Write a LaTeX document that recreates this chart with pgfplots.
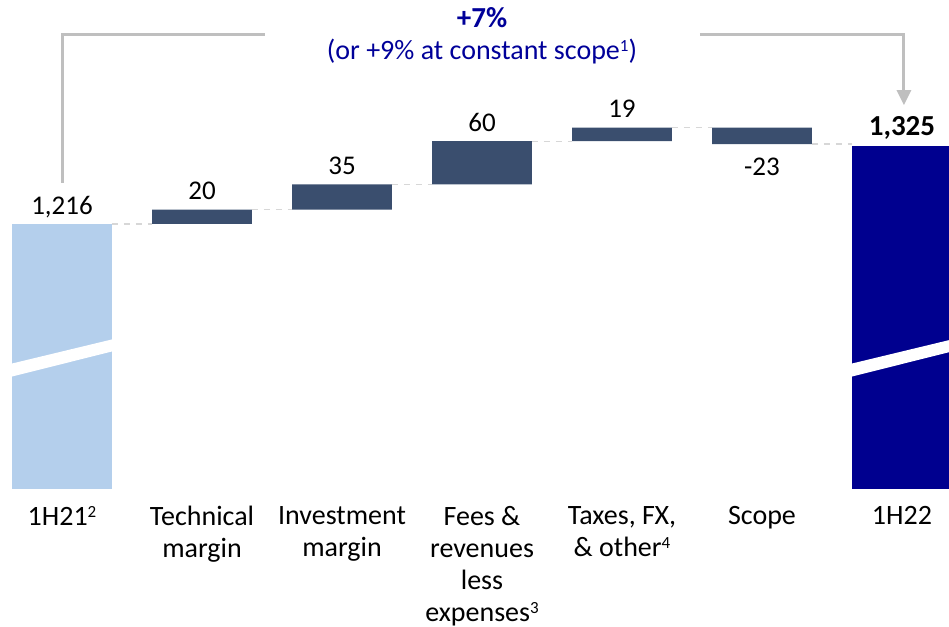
\documentclass[border=0pt]{standalone}
\usepackage{fontspec}
\setmainfont{Carlito}
\usepackage{pgfplots}
\usepackage{pgfplotstable}
\pgfplotsset{compat=1.18}
\usetikzlibrary{arrows.meta}
\newcommand\sups[1]{\raisebox{0.6ex}{\fontsize{8.5}{8.5}\selectfont #1}}
\definecolor{lb}{RGB}{180,207,236}
\definecolor{slate}{RGB}{58,78,110}
\definecolor{nv}{RGB}{0,0,143}
\definecolor{tnv}{RGB}{0,0,153}
\definecolor{brk}{RGB}{191,191,191}
\definecolor{dsh}{RGB}{215,215,215}
\pgfplotstableread{
x base start delta final
0 0 1216 0 0
1 1216 0 20 0
2 1236 0 35 0
3 1271 0 60 0
4 1331 0 19 0
5 1327 0 23 0
6 0 0 0 1325
}\wf
\begin{document}
\begin{tikzpicture}
\begin{axis}[
  scale only axis, width=474.5pt, height=244pt,
  xmin=-0.443, xmax=6.336, ymin=849.3, ymax=1527.1,
  ybar stacked, bar width=0.714,
  xtick={0,...,6},
  xticklabels={1H21\sups{2},Technical\\margin,Investment\\margin,Fees \&\\revenues\\less\\expenses\sups{3},{Taxes, FX,\\\& other\sups{4}},Scope,1H22},
  xticklabel style={align=center, font=\fontsize{14}{16}\selectfont, anchor=north, yshift=-5.5pt},
  ytick=\empty, axis line style={draw=none}, major tick length=0pt,
  clip=true,
]
\addplot[fill=none, draw=none] table[x=x,y=base]{\wf};
\addplot[fill=lb, draw=none] table[x=x,y=start]{\wf};
\addplot[fill=slate, draw=none] table[x=x,y=delta]{\wf};
\addplot[fill=nv, draw=none] table[x=x,y=final]{\wf};
% break band corners
\coordinate (a1) at (axis cs:-0.37,1003.5);
\coordinate (a2) at (axis cs:-0.37,1021.6);
\coordinate (a3) at (axis cs:0.37,1056.3);
\coordinate (a4) at (axis cs:0.37,1039.6);
\coordinate (c1) at (axis cs:5.63,1003.5);
\coordinate (c2) at (axis cs:5.63,1021.6);
\coordinate (c3) at (axis cs:6.37,1056.3);
\coordinate (c4) at (axis cs:6.37,1039.6);
% connectors
\draw[dsh, dashed, line width=0.6pt] (axis cs:0.357,1216) -- (axis cs:0.643,1216);
\draw[dsh, dashed, line width=0.6pt] (axis cs:1.357,1236) -- (axis cs:1.643,1236);
\draw[dsh, dashed, line width=0.6pt] (axis cs:2.357,1271) -- (axis cs:2.643,1271);
\draw[dsh, dashed, line width=0.6pt] (axis cs:3.357,1331) -- (axis cs:3.643,1331);
\draw[dsh, dashed, line width=0.6pt] (axis cs:4.357,1350) -- (axis cs:4.643,1350);
\draw[dsh, dashed, line width=0.6pt] (axis cs:5.357,1327) -- (axis cs:5.643,1327);
% value labels
\node[anchor=base, font=\fontsize{13.5}{16}\selectfont] at (axis cs:0,1216) [yshift=4.5pt] {1,216};
\node[anchor=base, font=\fontsize{13.5}{16}\selectfont] at (axis cs:1,1236) [yshift=5pt] {20};
\node[anchor=base, font=\fontsize{13.5}{16}\selectfont] at (axis cs:2,1271) [yshift=5pt] {35};
\node[anchor=base, font=\fontsize{13.5}{16}\selectfont] at (axis cs:3,1331) [yshift=5pt] {60};
\node[anchor=base, font=\fontsize{13.5}{16}\selectfont] at (axis cs:4,1350) [yshift=5pt] {19};
\node[anchor=base, font=\fontsize{13.5}{16}\selectfont] at (axis cs:5,1327) [yshift=-15.5pt] {-23};
\node[anchor=base, font=\fontsize{14.5}{16}\selectfont\bfseries] at (axis cs:6,1325) [yshift=5pt] {1,325};
\node[anchor=base, text=tnv, font=\fontsize{14.5}{16}\selectfont\bfseries] at (axis cs:3,1488.2) {+7\%};
\node[anchor=base, text=tnv, font=\fontsize{14}{16}\selectfont] at (axis cs:3,1443.8) {(or +9\% at constant scope\sups{1})};
% bracket
\draw[brk, line width=1.5pt] (axis cs:0.007,1273) |- (axis cs:1.45,1478.5);
\draw[brk, line width=1.5pt, -{Triangle[width=7pt,length=7.5pt]}] (axis cs:4.557,1478.5) -| (axis cs:6.014,1381);
\end{axis}
\fill[white] (a1) -- (a2) -- (a3) -- (a4) -- cycle;
\fill[white] (c1) -- (c2) -- (c3) -- (c4) -- cycle;
\pgfresetboundingbox
\useasboundingbox (current axis.south west) ++(0,-69pt) rectangle (current axis.north east);
\end{tikzpicture}
\end{document}
